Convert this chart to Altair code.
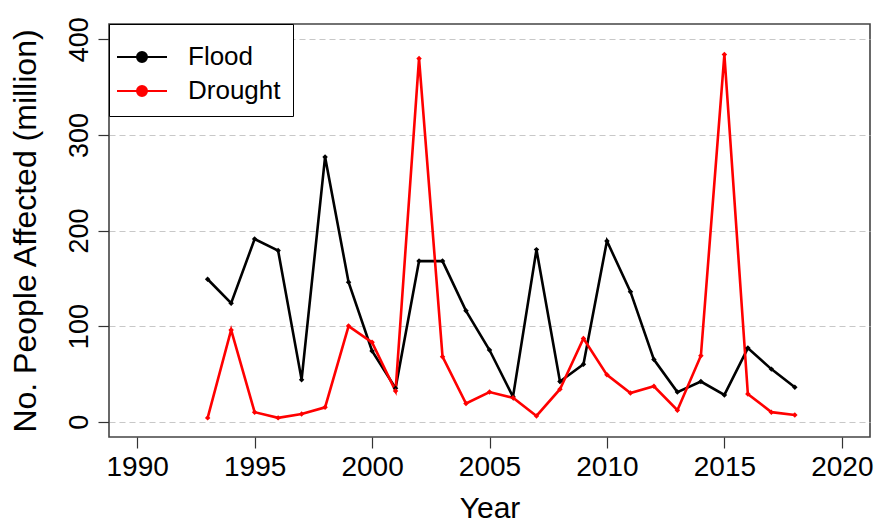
import altair as alt
import pandas as pd

# Annual number of people affected (million)
years = list(range(1993, 2019))
flood = [149, 124, 191, 179, 44, 277, 146, 74, 35, 168, 168, 116, 75, 26,
         180, 42, 60, 189, 136, 65, 31, 42, 28, 77, 55, 36]
drought = [4, 96, 10, 4, 8, 15, 100, 83, 32, 380, 68, 19, 31, 25,
           6, 34, 87, 49, 30, 37, 12, 69, 384, 29, 10, 7]

series_names = ["Flood", "Drought"]
series_colors = ["black", "red"]
x_ticks = [1990, 1995, 2000, 2005, 2010, 2015, 2020]
y_ticks = [0, 100, 200, 300, 400]

df = pd.concat([
    pd.DataFrame({"Year": years, "Affected": flood, "Type": "Flood"}),
    pd.DataFrame({"Year": years, "Affected": drought, "Type": "Drought"}),
])

FONT = "Liberation Sans"
W, H = 761, 413

# line with a dot in the middle, used as legend symbol
legend_symbol = ("M-1.25,0L1.25,0M0.25,0A0.25,0.25,0,1,1,-0.25,0"
                 "A0.25,0.25,0,1,1,0.25,0Z")

x_enc = alt.X(
    "Year:Q",
    scale=alt.Scale(domain=[1988.8, 2021.2], nice=False, zero=False),
    axis=alt.Axis(
        values=x_ticks, format="d", title="Year", grid=False,
        domain=False, tickSize=11, tickColor="#333", tickWidth=1.2,
        labelFontSize=28, labelFont=FONT, labelColor="black",
        labelPadding=5, labelFlush=False,
        titleFontSize=30, titleFont=FONT, titleFontWeight="normal",
        titleColor="black", titleX=W / 2, titleY=80,
        titleBaseline="alphabetic",
    ),
)
y_enc = alt.Y(
    "Affected:Q",
    scale=alt.Scale(domain=[-16, 416], nice=False, zero=False),
    axis=alt.Axis(
        values=y_ticks, title="No. People Affected (million)",
        grid=True, gridDash=[6, 4], gridColor="#c8c8c8", gridWidth=1.2,
        domain=False, tickSize=11, tickColor="#333", tickWidth=1.2,
        labelFontSize=27, labelFont=FONT, labelColor="black",
        labelAngle=-90, labelAlign="center", labelBaseline="alphabetic",
        labelPadding=11,
        titleFontSize=32, titleFont=FONT, titleFontWeight="normal",
        titleColor="black", titleX=-84, titleY=H / 2,
        titleBaseline="middle", titleAlign="center", titleAngle=-90,
    ),
)
color_enc = alt.Color(
    "Type:N",
    scale=alt.Scale(domain=series_names, range=series_colors),
    legend=alt.Legend(
        title=None, orient="top-left", offset=0,
        strokeColor="black", fillColor="white", padding=12,
        symbolType=legend_symbol, symbolSize=1600, symbolStrokeWidth=2,
        labelFontSize=26, labelFont=FONT, labelColor="black",
        labelOffset=25, rowPadding=-9,
    ),
)

base = alt.Chart(df).encode(x=x_enc, y=y_enc, color=color_enc)
lines = base.mark_line(strokeWidth=2.6)
points = base.mark_point(filled=True, size=30, opacity=1, shape="diamond")

chart = (
    alt.layer(lines, points)
    .properties(
        width=W, height=H,
        autosize=alt.AutoSizeParams(type="none"),
        padding={"left": 109, "top": 24, "right": 4, "bottom": 85},
        background="white",
    )
    .configure_view(stroke="#444", strokeWidth=1.6)
)

chart.save("out.html", embed_options={"renderer": "svg", "actions": False})
